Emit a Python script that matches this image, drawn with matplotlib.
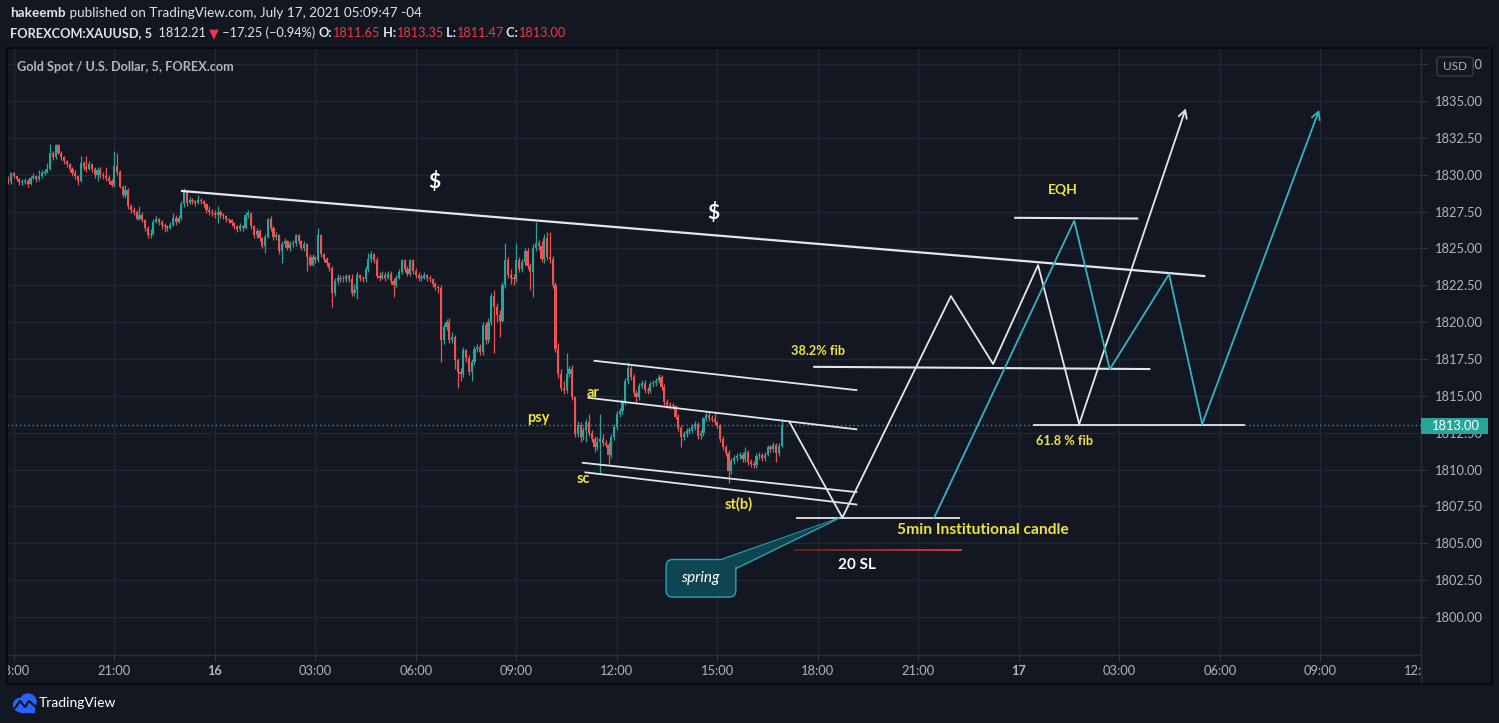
import numpy as np
import matplotlib.pyplot as plt
from matplotlib.patches import Rectangle, FancyBboxPatch, Polygon, Circle
from matplotlib.collections import LineCollection

BG = '#131722'
UP = '#26a69a'
DOWN = '#ef5350'
TXT = '#b2b5be'
YEL = '#f2e33c'
WHITE = '#e4e6ec'
CYAN = '#35b3c4'
GRID = '#232733'

plt.rcParams['font.family'] = ['Lato', 'DejaVu Sans']

# ---- 5 min candles of XAUUSD, hours counted from 15 Jul 00:00 ----
start_hour = 17 + 50 / 60
first_open = 1829.6
closes = [
    1829.5, 1830.1, 1829.9, 1829.7, 1829.5, 1829.5, 1829.6, 1829.4, 1829.8, 1829.9, 1829.7, 1829.9,
    1830.1, 1830.2, 1830.4, 1831.5, 1831.2, 1832.0, 1831.5, 1831.2, 1830.9, 1830.7, 1830.4, 1830.1,
    1829.9, 1829.6, 1830.8, 1830.5, 1830.4, 1830.7, 1830.4, 1830.0, 1830.3, 1830.0, 1829.9, 1829.8,
    1829.6, 1829.3, 1830.6, 1830.2, 1829.2, 1828.6, 1829.0, 1827.9, 1827.6, 1827.5, 1827.0, 1827.3,
    1826.9, 1826.4, 1825.9, 1826.0, 1826.8, 1827.0, 1826.8, 1826.6, 1826.5, 1826.4, 1826.6, 1827.1,
    1826.8, 1827.1, 1828.0, 1828.9, 1828.1, 1828.3, 1828.2, 1828.1, 1828.3, 1828.2, 1828.0, 1827.6,
    1827.5, 1827.4, 1827.3, 1827.5, 1827.3, 1827.2, 1827.0, 1826.9, 1826.7, 1826.5, 1826.3, 1826.5,
    1826.4, 1827.3, 1827.4, 1826.5, 1825.9, 1826.2, 1825.7, 1825.2, 1825.8, 1827.0, 1826.4, 1825.8,
    1825.9, 1824.8, 1825.3, 1825.5, 1825.0, 1825.3, 1825.4, 1825.9, 1825.5, 1825.0, 1825.3, 1824.4,
    1823.9, 1824.4, 1824.2, 1825.9, 1824.6, 1824.3, 1824.0, 1823.7, 1822.0, 1822.8, 1823.0, 1822.9,
    1822.9, 1823.1, 1822.9, 1822.0, 1822.2, 1823.2, 1823.0, 1822.9, 1823.6, 1824.3, 1824.6, 1824.2,
    1823.1, 1823.0, 1823.2, 1823.0, 1823.3, 1822.8, 1822.5, 1823.0, 1823.4, 1824.2, 1823.6, 1823.3,
    1824.2, 1823.5, 1823.2, 1823.0, 1823.0, 1823.2, 1823.0, 1822.9, 1822.6, 1822.4, 1822.3, 1818.8,
    1819.7, 1820.0, 1818.8, 1819.0, 1817.4, 1816.6, 1816.5, 1818.1, 1817.6, 1816.6, 1817.3, 1818.2,
    1818.3, 1818.0, 1819.8, 1818.8, 1820.0, 1821.8, 1821.0, 1820.5, 1820.1, 1822.5, 1824.2, 1823.2,
    1823.0, 1822.9, 1824.2, 1823.6, 1824.1, 1824.8, 1823.8, 1823.4, 1825.0, 1825.4, 1825.2, 1824.3,
    1825.7, 1824.4, 1824.3, 1822.5, 1818.2, 1816.5, 1815.5, 1815.4, 1816.5, 1816.8, 1814.9, 1812.4,
    1813.0, 1812.2, 1812.7, 1813.2, 1812.5, 1812.1, 1811.5, 1811.9, 1812.1, 1811.8, 1811.7, 1811.0,
    1812.2, 1812.9, 1813.8, 1814.0, 1814.6, 1816.0, 1816.9, 1816.3, 1815.2, 1814.9, 1815.7, 1815.9,
    1815.4, 1815.3, 1815.8, 1815.9, 1816.0, 1816.3, 1815.6, 1814.6, 1814.4, 1814.3, 1814.3, 1813.6,
    1812.8, 1812.2, 1812.4, 1812.6, 1812.7, 1812.9, 1813.1, 1812.3, 1812.5, 1813.5, 1813.7, 1813.5,
    1813.4, 1813.2, 1813.0, 1812.1, 1811.5, 1811.1, 1809.9, 1810.6, 1810.8, 1810.9, 1811.0, 1810.7,
    1811.2, 1810.5, 1810.4, 1810.3, 1810.9, 1811.0, 1810.8, 1811.0, 1811.5, 1811.4, 1811.7, 1811.1,
    1811.6, 1813.0,
]
highs = [
    1829.9, 1830.2, 1830.2, 1829.9, 1829.8, 1829.7, 1829.8, 1829.7, 1829.9, 1830.1, 1830.0, 1830.3,
    1830.3, 1830.4, 1830.8, 1832.1, 1831.6, 1832.1, 1832.1, 1831.6, 1831.3, 1831.0, 1830.8, 1830.5,
    1830.3, 1830.0, 1831.3, 1830.9, 1831.3, 1830.9, 1830.8, 1830.5, 1830.5, 1830.5, 1830.2, 1830.5,
    1830.0, 1829.7, 1831.6, 1831.5, 1830.3, 1829.3, 1829.3, 1829.1, 1828.0, 1827.8, 1827.6, 1827.9,
    1827.5, 1827.0, 1826.5, 1826.3, 1827.0, 1827.2, 1827.1, 1826.9, 1826.7, 1826.6, 1826.8, 1827.4,
    1827.3, 1827.3, 1828.2, 1829.1, 1829.0, 1828.5, 1828.4, 1828.3, 1828.6, 1828.4, 1828.3, 1828.1,
    1827.9, 1827.7, 1827.6, 1827.9, 1827.6, 1827.4, 1827.3, 1827.1, 1827.0, 1826.8, 1826.6, 1826.7,
    1826.6, 1827.5, 1827.6, 1827.5, 1826.6, 1826.4, 1826.3, 1825.8, 1826.0, 1827.1, 1827.2, 1826.5,
    1826.1, 1826.0, 1825.5, 1825.7, 1825.6, 1825.5, 1825.6, 1826.0, 1826.0, 1825.6, 1825.5, 1825.4,
    1824.6, 1824.6, 1824.5, 1826.4, 1826.0, 1824.7, 1824.4, 1824.1, 1823.8, 1823.0, 1823.3, 1823.2,
    1823.2, 1823.3, 1823.3, 1823.3, 1822.6, 1823.4, 1823.3, 1823.1, 1823.8, 1824.7, 1824.8, 1824.7,
    1824.4, 1823.4, 1823.5, 1823.4, 1823.5, 1823.5, 1823.0, 1823.2, 1823.6, 1824.3, 1824.3, 1823.8,
    1824.3, 1824.3, 1823.7, 1823.4, 1823.3, 1823.4, 1823.3, 1823.2, 1823.0, 1822.7, 1822.5, 1822.5,
    1819.9, 1820.2, 1820.3, 1819.3, 1819.1, 1817.6, 1816.9, 1818.3, 1818.2, 1817.8, 1817.5, 1818.4,
    1818.5, 1818.5, 1820.0, 1820.0, 1820.3, 1822.0, 1822.2, 1821.3, 1820.8, 1822.7, 1825.4, 1824.4,
    1823.6, 1823.3, 1825.4, 1824.4, 1824.3, 1825.0, 1825.0, 1824.0, 1825.3, 1826.8, 1825.6, 1825.5,
    1826.0, 1826.1, 1826.1, 1824.5, 1822.7, 1818.6, 1816.8, 1816.0, 1817.9, 1817.0, 1817.1, 1815.0,
    1813.3, 1813.2, 1812.9, 1813.4, 1813.8, 1812.7, 1812.3, 1812.2, 1813.8, 1812.4, 1812.0, 1811.9,
    1812.4, 1813.1, 1814.0, 1814.2, 1814.8, 1816.2, 1817.3, 1817.0, 1816.5, 1815.4, 1815.9, 1816.1,
    1816.1, 1815.6, 1816.0, 1816.1, 1816.2, 1816.5, 1816.4, 1815.8, 1814.8, 1814.6, 1814.5, 1814.4,
    1813.8, 1813.0, 1812.6, 1812.8, 1812.9, 1813.1, 1813.3, 1813.2, 1812.7, 1813.6, 1813.9, 1813.9,
    1813.7, 1813.9, 1813.3, 1813.1, 1812.3, 1811.7, 1811.3, 1810.8, 1811.0, 1811.1, 1811.2, 1811.2,
    1811.5, 1811.3, 1810.7, 1810.6, 1811.1, 1811.2, 1811.1, 1811.2, 1811.7, 1811.7, 1811.9, 1811.8,
    1811.8, 1813.4,
]
lows = [
    1829.4, 1829.4, 1829.8, 1829.6, 1829.3, 1829.3, 1829.4, 1829.2, 1829.3, 1829.7, 1829.5, 1829.6,
    1829.8, 1830.0, 1830.1, 1830.3, 1831.0, 1831.1, 1831.4, 1831.0, 1830.7, 1830.5, 1830.2, 1829.9,
    1829.7, 1829.3, 1829.5, 1830.3, 1830.2, 1830.3, 1830.2, 1829.8, 1829.6, 1829.8, 1829.7, 1829.6,
    1829.4, 1829.2, 1829.2, 1830.0, 1829.1, 1828.5, 1828.4, 1827.7, 1827.4, 1827.3, 1826.9, 1826.9,
    1826.8, 1826.2, 1825.7, 1825.7, 1825.9, 1826.7, 1826.6, 1826.3, 1826.1, 1826.2, 1826.3, 1826.5,
    1826.6, 1826.7, 1826.9, 1827.8, 1827.9, 1828.0, 1828.0, 1827.9, 1828.0, 1828.0, 1827.8, 1827.4,
    1827.3, 1827.2, 1827.1, 1826.7, 1827.1, 1827.0, 1826.8, 1826.7, 1826.5, 1826.3, 1826.1, 1826.2,
    1826.2, 1826.3, 1827.1, 1826.3, 1825.7, 1825.7, 1825.5, 1825.0, 1824.7, 1825.7, 1826.2, 1825.6,
    1825.6, 1824.6, 1824.0, 1825.1, 1824.9, 1824.8, 1825.1, 1825.2, 1825.3, 1824.9, 1824.8, 1823.5,
    1823.8, 1823.8, 1824.0, 1824.1, 1824.4, 1824.1, 1823.8, 1823.5, 1821.0, 1821.8, 1822.6, 1822.7,
    1822.7, 1822.7, 1822.7, 1821.8, 1821.8, 1821.6, 1822.8, 1822.7, 1822.7, 1823.4, 1824.1, 1824.0,
    1823.0, 1822.8, 1822.9, 1822.8, 1822.9, 1822.6, 1821.7, 1822.4, 1822.9, 1823.3, 1823.4, 1823.1,
    1823.1, 1823.3, 1823.0, 1822.8, 1822.8, 1822.9, 1822.8, 1822.7, 1822.4, 1822.2, 1822.0, 1817.3,
    1818.5, 1819.5, 1818.6, 1818.6, 1816.8, 1815.5, 1816.0, 1816.3, 1817.3, 1816.4, 1816.0, 1817.1,
    1818.0, 1817.8, 1817.8, 1818.5, 1818.6, 1819.8, 1817.9, 1820.0, 1819.0, 1820.0, 1822.3, 1823.0,
    1822.6, 1822.5, 1822.7, 1823.4, 1823.4, 1823.9, 1823.6, 1822.2, 1821.7, 1824.8, 1824.9, 1824.1,
    1824.0, 1824.2, 1824.0, 1822.3, 1818.0, 1816.2, 1815.3, 1815.1, 1815.2, 1816.3, 1814.7, 1812.2,
    1812.2, 1811.9, 1812.0, 1811.9, 1812.3, 1811.9, 1811.2, 1811.3, 1809.8, 1811.6, 1811.5, 1810.4,
    1810.8, 1812.0, 1812.7, 1813.6, 1813.8, 1814.4, 1815.8, 1816.1, 1815.0, 1814.5, 1814.7, 1815.5,
    1815.2, 1815.1, 1815.2, 1815.6, 1815.7, 1815.9, 1815.4, 1814.4, 1814.2, 1814.1, 1814.1, 1813.4,
    1812.6, 1811.5, 1812.0, 1812.2, 1812.4, 1812.5, 1812.7, 1812.1, 1812.1, 1812.3, 1813.3, 1813.3,
    1813.2, 1813.0, 1812.8, 1811.9, 1811.3, 1810.9, 1809.1, 1809.7, 1810.4, 1810.6, 1810.7, 1810.5,
    1810.5, 1810.3, 1810.2, 1810.1, 1810.1, 1810.7, 1810.6, 1810.6, 1810.9, 1811.2, 1811.2, 1810.5,
    1810.9, 1811.5,
]
last_price = 1813.00

# ---- axis ticks ----
time_ticks = [18, 21, 24, 27, 30, 33, 36, 39, 42, 45, 48, 51, 54, 57, 60]
time_labels = ['18:00', '21:00', '16', '03:00', '06:00', '09:00', '12:00', '15:00',
               '18:00', '21:00', '17', '03:00', '06:00', '09:00', '12:00']
price_ticks = [1800.0, 1802.5, 1805.0, 1807.5, 1810.0, 1812.5, 1815.0, 1817.5, 1820.0,
               1822.5, 1825.0, 1827.5, 1830.0, 1832.5, 1835.0, 1837.5]

# ---- drawings (hour, price) ----
trend_t, trend_p = [23.02, 53.53], [1828.9, 1823.13]
channel = [
    ([35.33, 43.15], [1817.38, 1815.39]),
    ([35.15, 43.15], [1814.87, 1812.73]),
    ([34.98, 43.15], [1810.46, 1808.47]),
    ([35.06, 43.15], [1809.81, 1807.63]),
]
white_path_t = [41.15, 42.73, 45.97, 47.23, 48.57, 49.80, 52.98]
white_path_p = [1813.24, 1806.74, 1821.77, 1817.16, 1823.87, 1813.09, 1834.5]
cyan_path_t = [45.47, 49.65, 50.71, 52.48, 53.47, 56.96]
cyan_path_p = [1806.74, 1826.88, 1816.80, 1823.26, 1813.09, 1834.4]
inst_t, inst_p = [41.39, 46.22], 1806.73
sl_t, sl_p = [41.30, 46.31], 1804.54
fib382_t, fib382_p = [41.89, 51.89], [1816.97, 1816.82]
fib618_t, fib618_p = [48.46, 54.72], [1813.0, 1813.0]
eqh_t, eqh_p = [47.89, 51.53], [1827.08, 1827.03]

W, H = 1499, 723
fig = plt.figure(figsize=(W / 100, H / 100), dpi=100, facecolor=BG)


def fx(x):
    return x / W


def fy(y):
    return 1 - y / H


ax = fig.add_axes([fx(7), fy(655), (1421 - 7) / W, (655 - 48) / H])
ax.set_facecolor(BG)
ax.set_xlim(17.797, 59.97)
ax.set_ylim(1797.42, 1838.60)
for s in ax.spines.values():
    s.set_visible(False)

ax.set_xticks(time_ticks)
ax.set_xticklabels(time_labels)
for lab, txt in zip(ax.get_xticklabels(), time_labels):
    if len(txt) == 2:
        lab.set_fontweight('bold')
ax.set_yticks(price_ticks)
ax.set_yticklabels(['%.2f' % p for p in price_ticks])
ax.yaxis.tick_right()
ax.tick_params(axis='x', colors='#363a45', labelcolor=TXT, labelsize=9.3, length=4, pad=3)
ax.tick_params(axis='y', colors='#363a45', labelcolor=TXT, labelsize=9.3, length=4, pad=6)
ax.grid(True, color=GRID, lw=0.9)
ax.set_axisbelow(True)

# candles
closes = np.array(closes)
opens = np.concatenate([[first_open], closes[:-1]])
t = start_hour + np.arange(len(closes)) / 12
cols = np.where(closes >= opens, UP, DOWN)
ax.vlines(t, lows, highs, colors=cols, lw=0.9, zorder=2)
body = np.maximum(np.abs(closes - opens), 0.06)
ax.bar(t, body, bottom=np.minimum(opens, closes), width=0.78 / 12, color=cols, lw=0, zorder=2)

# last price line
ax.axhline(last_price, color=UP, lw=1, ls=(0, (1, 2)), zorder=1.5)

# trend and channel lines
ax.plot(trend_t, trend_p, color=WHITE, lw=1.6, zorder=3)
for ct, cp in channel:
    ax.plot(ct, cp, color=WHITE, lw=1.3, zorder=3)

# projected paths
ax.plot(white_path_t[:-1], white_path_p[:-1], color=WHITE, lw=1.3, zorder=4)
ax.annotate('', xy=(white_path_t[-1], white_path_p[-1]), xytext=(white_path_t[-2], white_path_p[-2]),
            arrowprops=dict(arrowstyle='->,head_length=0.55,head_width=0.3', color=WHITE, lw=1.3,
                            shrinkA=0, shrinkB=0), zorder=4)
ax.plot(cyan_path_t[:-1], cyan_path_p[:-1], color=CYAN, lw=1.3, zorder=4)
ax.annotate('', xy=(cyan_path_t[-1], cyan_path_p[-1]), xytext=(cyan_path_t[-2], cyan_path_p[-2]),
            arrowprops=dict(arrowstyle='->,head_length=0.55,head_width=0.3', color=CYAN, lw=1.3,
                            shrinkA=0, shrinkB=0), zorder=4)

# horizontal levels
ax.plot(inst_t, [inst_p, inst_p], color=WHITE, lw=1.3, zorder=3)
ax.plot(fib382_t, fib382_p, color=WHITE, lw=1.5, zorder=3)
ax.plot(fib618_t, fib618_p, color=WHITE, lw=1.3, zorder=3)
ax.plot(eqh_t, eqh_p, color=WHITE, lw=1.5, zorder=3)
xs = np.linspace(sl_t[0], sl_t[1], 30)
segs = [[(xs[k], sl_p), (xs[k + 1], sl_p)] for k in range(len(xs) - 1)]
shade = np.linspace(0.5, 1.0, len(segs))
ax.add_collection(LineCollection(segs, colors=[(0.93 * s, 0.22 * s, 0.21 * s) for s in shade], lw=1.3, zorder=3))

# labels
ax.text(30.56, 1829.57, '$', color='white', fontsize=15, weight='bold', ha='center', va='center')
ax.text(38.88, 1827.47, '$', color='white', fontsize=15, weight='bold', ha='center', va='center')
ax.text(49.32, 1828.96, 'EQH', color=YEL, fontsize=10, weight='bold', ha='center', va='center')
ax.text(41.21, 1818.04, '38.2% fib', color=YEL, fontsize=9.2, weight='bold', ha='left', va='center')
ax.text(48.52, 1811.95, '61.8 % fib', color=YEL, fontsize=9.2, weight='bold', ha='left', va='center')
ax.text(44.37, 1805.90, '5min Institutional candle', color=YEL, fontsize=11.2, weight='bold', ha='left', va='center')
ax.text(43.15, 1803.52, '20 SL', color='white', fontsize=11, weight='bold', ha='center', va='center')
ax.text(33.66, 1813.49, 'psy', color=YEL, fontsize=10.5, weight='bold', ha='center', va='center')
ax.text(35.30, 1815.19, 'ar', color=YEL, fontsize=10.5, weight='bold', ha='center', va='center')
ax.text(35.00, 1809.36, 'sc', color=YEL, fontsize=10.5, weight='bold', ha='center', va='center')
ax.text(39.63, 1807.66, 'st(b)', color=YEL, fontsize=10.5, weight='bold', ha='center', va='center')

# spring callout
ax.add_patch(Polygon([(39.15, 1803.93), (39.57, 1803.30), (42.64, 1806.71)], closed=True,
                     fc='#0f4550', ec='#2aa3b5', lw=1, zorder=5))
ax.add_patch(FancyBboxPatch((37.47, 1801.35), 2.08, 2.55, boxstyle='round,pad=0,rounding_size=0.2',
                            mutation_aspect=1 / 0.45, fc='#0f4550', ec='#2aa3b5', lw=1, zorder=5))
ax.add_patch(Polygon([(39.10, 1803.84), (39.52, 1803.38), (42.5, 1806.6)], closed=True,
                     fc='#0f4550', ec='none', zorder=5))
ax.text(38.49, 1802.64, 'spring', color='white', fontsize=11, style='italic', ha='center', va='center', zorder=6)

# ---- panel chrome ----
def frect(x0, y0, x1, y1, **kw):
    r = Rectangle((fx(x0), fy(y1)), fx(x1) - fx(x0), fy(y0) - fy(y1), transform=fig.transFigure, **kw)
    fig.add_artist(r)
    return r

frect(0, 656, 7, 684, fc=BG, ec='none', zorder=5)
frect(1422, 656, 1492, 684, fc=BG, ec='none', zorder=5)
fig.add_artist(plt.Line2D([fx(7), fx(1421)], [fy(655), fy(655)], transform=fig.transFigure, color='#2a2e39', lw=1, zorder=6))
fig.add_artist(plt.Line2D([fx(1421), fx(1421)], [fy(48), fy(684)], transform=fig.transFigure, color='#2a2e39', lw=1, zorder=6))
frect(7, 48, 1492, 684, fc='none', ec='#05070b', lw=1.2, zorder=6)

# last price tag
frect(1421, 418, 1488, 434, fc=UP, ec='none', zorder=7)
fig.text(fx(1432), fy(426), '%.2f' % last_price, color='white', fontsize=9.3, ha='left', va='center', zorder=8)

# USD tag
fig.add_artist(FancyBboxPatch((fx(1437), fy(76)), fx(36), 19 / H, boxstyle='round,pad=0,rounding_size=0.003',
                              transform=fig.transFigure, fc=BG, ec='#363a45', lw=1, zorder=7))
fig.text(fx(1455), fy(66.5), 'USD', color=TXT, fontsize=8.5, ha='center', va='center', zorder=8)

# chart title
fig.text(fx(17), fy(67), 'Gold Spot / U.S. Dollar, 5, FOREX.com', color=TXT, fontsize=9.2, weight='bold',
         ha='left', va='center', zorder=8)


# header lines
def chain(parts, x, y, size):
    prev = None
    for txt, col, wt in parts:
        if prev is None:
            prev = fig.text(x, y, txt, color=col, weight=wt, fontsize=size, ha='left', va='center')
        else:
            prev = ax.annotate(txt, xy=(1, 0), xycoords=prev, ha='left', va='bottom', color=col,
                               weight=wt, fontsize=size, annotation_clip=False)


HDR = '#e0e3eb'
RED = '#f23645'
chain([('hakeemb', HDR, 'bold'),
       (' published on TradingView.com, July 17, 2021 05:09:47 -04', HDR, 'normal')],
      fx(10), fy(13), 9.7)
chain([('FOREXCOM:XAUUSD, 5', HDR, 'bold'), ('  1812.21 ', HDR, 'normal'), ('\u25BC', RED, 'normal'),
       (' \u221217.25 (\u22120.94%) ', HDR, 'normal'), ('O:', HDR, 'bold'), ('1811.65', RED, 'normal'),
       (' H:', HDR, 'bold'), ('1813.35', RED, 'normal'), (' L:', HDR, 'bold'), ('1811.47', RED, 'normal'),
       (' C:', HDR, 'bold'), ('1813.00', RED, 'normal')],
      fx(10), fy(33), 9.2)

# TradingView logo
lax = fig.add_axes([fx(12), fy(716), fx(26), 26 / H])
lax.set_xlim(0, 26)
lax.set_ylim(0, 26)
lax.axis('off')
lax.add_patch(Circle((8, 11), 6.5, color='#2962ff'))
lax.add_patch(Circle((16, 14), 8, color='#2962ff'))
lax.add_patch(Rectangle((8, 4.5), 14, 7, color='#2962ff'))
lax.plot([3, 8, 13, 17, 24], [8, 15, 9, 15, 9], color=BG, lw=1.6)
fig.text(fx(39), fy(703), 'TradingView', color='white', fontsize=10, ha='left', va='center')

fig.savefig('out.png', dpi=100, facecolor=BG)
